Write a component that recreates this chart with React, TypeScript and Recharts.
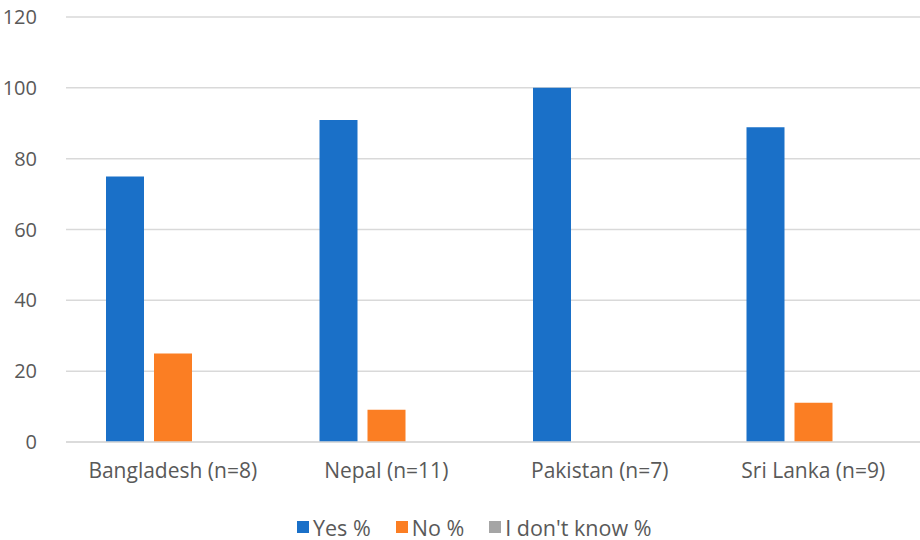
import React from 'react';
import { BarChart, Bar, XAxis, YAxis, CartesianGrid, Legend } from 'recharts';

const countries = ['Bangladesh (n=8)', 'Nepal (n=11)', 'Pakistan (n=7)', 'Sri Lanka (n=9)'];
const yesPct = [75, 90.9, 100, 88.9];
const noPct = [25, 9.1, 0, 11.1];
const dontKnowPct = [0, 0, 0, 0];
const yTicks = [0, 20, 40, 60, 80, 100, 120];

const seriesNames = ['Yes %', 'No %', "I don't know %"];
const seriesColors = ['#1a70c8', '#fb7e23', '#a5a5a5'];

const data = countries.map((name, i) => ({
  name,
  yes: yesPct[i],
  no: noPct[i],
  dk: dontKnowPct[i],
}));

const FONT = '"Open Sans", Lato, sans-serif';
const TEXT = '#595959';

const LegendContent = () => (
  <div
    style={{
      height: 24,
      display: 'flex',
      justifyContent: 'flex-start',
      alignItems: 'center',
      paddingLeft: 297,
      gap: 25,
      fontFamily: FONT,
      fontSize: 21.5,
      color: TEXT,
    }}
  >
    {seriesNames.map((n, i) => (
      <div key={n} style={{ display: 'flex', alignItems: 'center' }}>
        <span style={{ width: 12, height: 12, background: seriesColors[i], marginRight: 4, display: 'inline-block' }} />
        <span>{n}</span>
      </div>
    ))}
  </div>
);

export default function App() {
  return (
    <div style={{ position: 'absolute', left: 0, top: 0, width: 920, height: 540, background: '#fff' }}>
      <BarChart
        width={920}
        height={540}
        data={data}
        margin={{ top: 17, right: 0, bottom: 34, left: 0 }}
        barCategoryGap={40}
        barGap={10}
      >
        <CartesianGrid vertical={false} stroke="#d9d9d9" strokeWidth={1.5} />
        <XAxis
          dataKey="name"
          axisLine={{ stroke: '#d9d9d9', strokeWidth: 1.5 }}
          tickLine={false}
          tick={{ fill: TEXT, fontSize: 21, fontFamily: FONT }}
          tickMargin={15}
          height={40}
        />
        <YAxis
          domain={[0, 120]}
          ticks={yTicks}
          axisLine={false}
          tickLine={false}
          width={66}
          tick={{ fill: TEXT, fontSize: 20, fontFamily: FONT }}
          tickMargin={23}
        />
        <Legend
          content={<LegendContent />}
          wrapperStyle={{ top: 515, left: 0, width: 920 }}
        />
        <Bar dataKey="yes" name={seriesNames[0]} fill={seriesColors[0]} isAnimationActive={false} />
        <Bar dataKey="no" name={seriesNames[1]} fill={seriesColors[1]} isAnimationActive={false} />
        <Bar dataKey="dk" name={seriesNames[2]} fill={seriesColors[2]} isAnimationActive={false} />
      </BarChart>
    </div>
  );
}
